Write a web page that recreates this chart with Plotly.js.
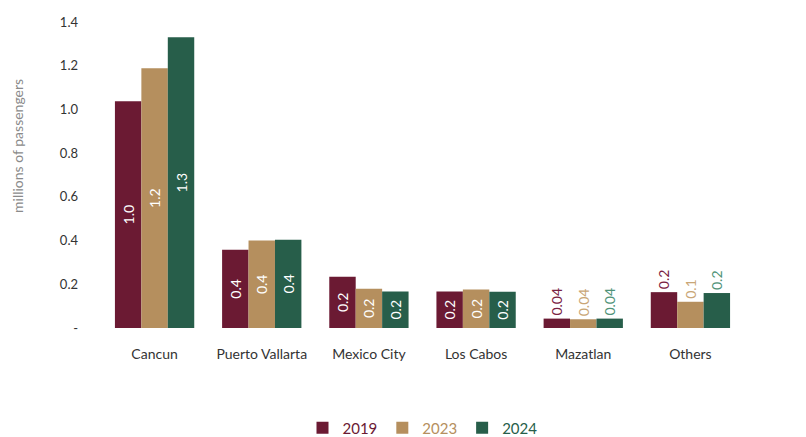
<!DOCTYPE html>
<html>
<head>
<meta charset="utf-8">
<script src="https://cdn.plot.ly/plotly-3.0.1.min.js"></script>
<style>html,body{margin:0;padding:0;background:#fff}#chart{width:806px;height:437px}</style>
</head>
<body>
<div id="chart"></div>
<script>
const categories = ["Cancun", "Puerto Vallarta", "Mexico City", "Los Cabos", "Mazatlan", "Others"];
const years = ["2019", "2023", "2024"];
const values2019 = [1.037, 0.358, 0.235, 0.167, 0.043, 0.164];
const values2023 = [1.188, 0.400, 0.180, 0.176, 0.040, 0.120];
const values2024 = [1.330, 0.404, 0.167, 0.166, 0.043, 0.160];
const labels2019 = ["1.0", "0.4", "0.2", "0.2", "0.04", "0.2"];
const labels2023 = ["1.2", "0.4", "0.2", "0.2", "0.04", "0.1"];
const labels2024 = ["1.3", "0.4", "0.2", "0.2", "0.04", "0.2"];
const tickVals = [0, 0.2, 0.4, 0.6, 0.8, 1.0, 1.2, 1.4];
const tickText = ["-", "0.2", "0.4", "0.6", "0.8", "1.0", "1.2", "1.4"];
const yTitle = "millions of passengers";

const colors = ["#6b1a33", "#b58f5e", "#275e4a"];
const outsideColors = ["#7a2242", "#c9a676", "#4f9378"];
const outsideCats = ["Mazatlan", "Others"];

function mkTrace(name, vals, labels, i) {
  const pos = categories.map(c => outsideCats.includes(c) ? "outside" : "inside");
  const tcol = categories.map(c => outsideCats.includes(c) ? outsideColors[i] : "#ffffff");
  return {
    type: "bar",
    x: categories,
    y: vals,
    text: labels,
    texttemplate: "%{text}",
    textposition: pos,
    textangle: -90,
    insidetextanchor: "middle",
    constraintext: "none",
    cliponaxis: false,
    textfont: {family: "Lato, 'Noto Sans', sans-serif", size: 14, color: tcol},
    marker: {color: colors[i], line: {width: 0}},
    name: '<span style="color:' + colors[i] + '">' + name + '</span>',
    hoverinfo: "none"
  };
}

const data = [
  mkTrace(years[0], values2019, labels2019, 0),
  mkTrace(years[1], values2023, labels2023, 1),
  mkTrace(years[2], values2024, labels2024, 2)
];

const layout = {
  width: 806, height: 437,
  margin: {l: 101, r: 62, t: 22, b: 109, autoexpand: false},
  paper_bgcolor: "#ffffff",
  plot_bgcolor: "#ffffff",
  font: {family: "Lato, 'Noto Sans', sans-serif", color: "#333333", size: 13},
  barmode: "group",
  bargap: 0.26,
  bargroupgap: 0,
  showlegend: true,
  legend: {
    orientation: "h", x: 0.5, xanchor: "center", xref: "paper",
    y: -0.327, yanchor: "middle",
    font: {size: 15}, itemwidth: 30, traceorder: "normal"
  },
  xaxis: {
    showline: false, showgrid: false, zeroline: false, ticks: "",
    ticklabelstandoff: 16,
    tickfont: {size: 14, color: "#333333"},
    automargin: false
  },
  yaxis: {
    range: [0, 1.4], tickvals: tickVals, ticktext: tickText,
    showgrid: false, zeroline: false, showline: false, ticks: "",
    ticklabelstandoff: 22,
    tickfont: {size: 13, color: "#333333"},
    automargin: false
  },
  annotations: [{
    text: yTitle, xref: "paper", yref: "paper",
    x: -0.129, y: 0.595, xanchor: "center", yanchor: "middle",
    textangle: -90, showarrow: false,
    font: {size: 14, color: "#8a8a8a"}
  }]
};

Plotly.newPlot("chart", data, layout, {displayModeBar: false, staticPlot: true});
</script>
</body>
</html>
